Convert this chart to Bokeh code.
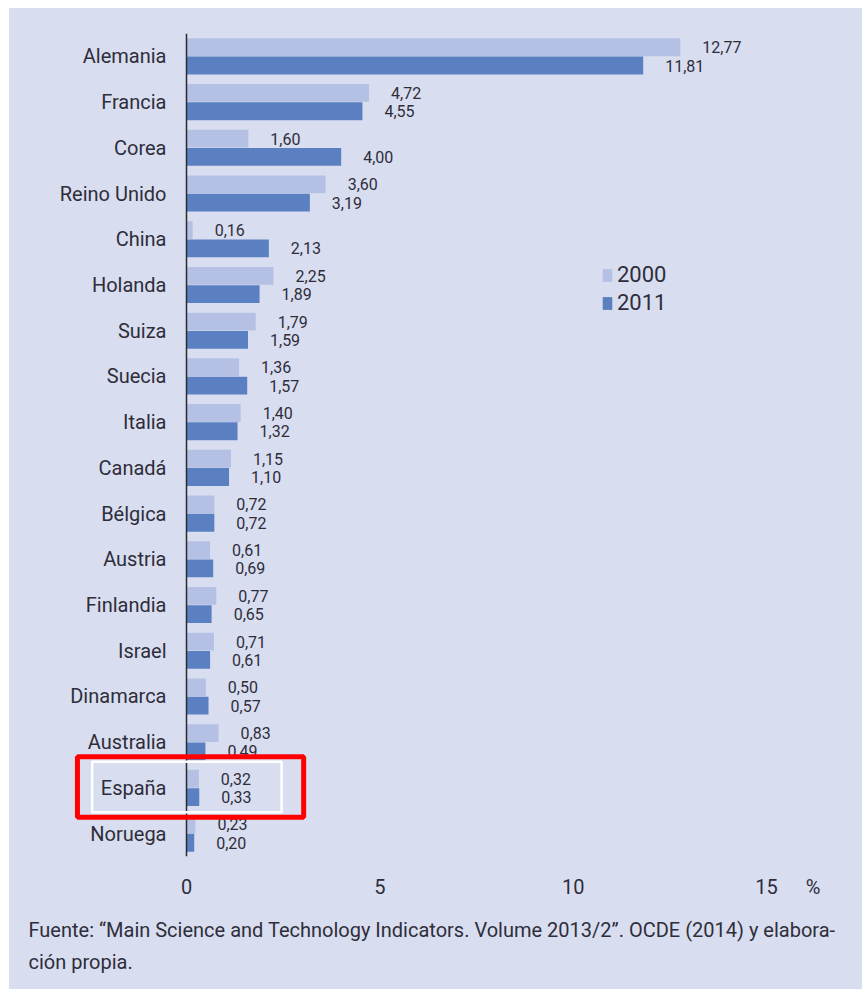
from bokeh.plotting import figure
from bokeh.layouts import column, row
from bokeh.models import (FactorRange, Range1d, FixedTicker, Legend, LegendItem, BoxAnnotation,
                          ColumnDataSource, Span, Title, Spacer)
from bokeh.transform import dodge
from bokeh.embed import file_html
from bokeh.resources import INLINE
from bokeh.core.properties import value

countries = ["Alemania", "Francia", "Corea", "Reino Unido", "China", "Holanda", "Suiza",
             "Suecia", "Italia", "Canadá", "Bélgica", "Austria", "Finlandia", "Israel",
             "Dinamarca", "Australia", "España", "Noruega"]
v2000 = [12.77, 4.72, 1.60, 3.60, 0.16, 2.25, 1.79, 1.36, 1.40, 1.15, 0.72, 0.61, 0.77,
         0.71, 0.50, 0.83, 0.32, 0.23]
v2011 = [11.81, 4.55, 4.00, 3.19, 2.13, 1.89, 1.59, 1.57, 1.32, 1.10, 0.72, 0.69, 0.65,
         0.61, 0.57, 0.49, 0.33, 0.20]
x_ticks = [0, 5, 10, 15]
series_names = ["2000", "2011"]
highlight = "España"
footer_lines = ["Fuente: \u201cMain Science and Technology Indicators. Volume 2013/2\u201d. OCDE (2014) y elabora-",
                "ción propia."]
unit_label = "%"

BG = "#d8def0"
C2000 = "#b5c1e4"
C2011 = "#5b80c2"
TXT = "#2f2d3a"
FONT = "Roboto"
UNIT_POS = 16.2


def fmt(v):
    return f"{v:.2f}".replace(".", ",")


source = ColumnDataSource(dict(
    country=countries,
    v2000=v2000,
    v2011=v2011,
    l2000=[fmt(v) for v in v2000],
    l2011=[fmt(v) for v in v2011],
))

PX = 38.67
W, H = 853, 981
x0 = -177 / PX
p = figure(width=W, height=H, output_backend="svg", toolbar_location=None,
           x_range=Range1d(x0, x0 + W / PX), y_range=FactorRange(factors=countries[::-1]),
           min_border_left=0, min_border_right=0, min_border_top=25, min_border_bottom=133)
p.background_fill_color = BG
p.border_fill_color = BG
p.outline_line_color = None
p.styles = {"background-color": BG}
p.grid.visible = False
p.yaxis.visible = False

r1 = p.hbar(y=dodge("country", 0.2, range=p.y_range), right="v2000", left=0, height=0.39,
            source=source, color=C2000, line_color=None)
r2 = p.hbar(y=dodge("country", -0.2, range=p.y_range), right="v2011", left=0, height=0.39,
            source=source, color=C2011, line_color=None)

# value labels
p.text(x="v2000", y=dodge("country", 0.2, range=p.y_range), text="l2000", source=source,
       x_offset=22, text_baseline="middle", text_align="left", text_font=value(FONT),
       text_font_size="16px", text_color=TXT)
p.text(x="v2011", y=dodge("country", -0.2, range=p.y_range), text="l2011", source=source,
       x_offset=22, text_baseline="middle", text_align="left", text_font=value(FONT),
       text_font_size="16px", text_color=TXT)

# category labels (vertical axis)
p.text(x=0, y="country", text="country", source=source, x_offset=-20,
       text_baseline="middle", text_align="right", text_font=value(FONT),
       text_font_size="20px", text_color=TXT)
p.add_layout(Span(location=0, dimension="height", line_color="#2b2b2b", line_width=1.5))

# x axis
p.xaxis.ticker = FixedTicker(ticks=x_ticks + [UNIT_POS])
p.xaxis.major_label_overrides = {UNIT_POS: unit_label}
p.xaxis.axis_line_color = None
p.xaxis.major_tick_line_color = None
p.xaxis.minor_tick_line_color = None
p.xaxis.major_label_text_font = FONT
p.xaxis.major_label_text_font_size = "20px"
p.xaxis.major_label_text_color = TXT
p.xaxis.major_label_standoff = 12

# footer (two lines)
p.add_layout(Title(text="\n".join(footer_lines), align="left", offset=19, text_font=FONT,
                   text_font_size="20px", text_font_style="normal", text_color=TXT,
                   text_line_height=1.36, standoff=28), "below")

# highlight box for España
hi = countries[::-1].index(highlight) + 0.5
p.add_layout(BoxAnnotation(left=-2.44, right=2.46, bottom=hi - 0.53, top=hi + 0.57,
                           fill_alpha=0, line_color="white", line_alpha=1, line_width=2.5))
p.add_layout(BoxAnnotation(left=-2.82, right=3.03, bottom=hi - 0.64, top=hi + 0.68,
                           fill_alpha=0, line_color="#ff0000", line_alpha=1, line_width=5))

legend = Legend(items=[LegendItem(label=series_names[0], renderers=[r1]),
                       LegendItem(label=series_names[1], renderers=[r2])],
                location=(592, 541), background_fill_alpha=0, border_line_color=None,
                glyph_width=12, glyph_height=16, label_standoff=4, spacing=3, padding=0,
                margin=0, label_text_font=FONT, label_text_font_size="22px",
                label_text_color=TXT, label_height=22)
p.add_layout(legend)

layout = column(Spacer(height=8), row(Spacer(width=9), p))
open("out.html", "w").write(file_html(layout, INLINE))
